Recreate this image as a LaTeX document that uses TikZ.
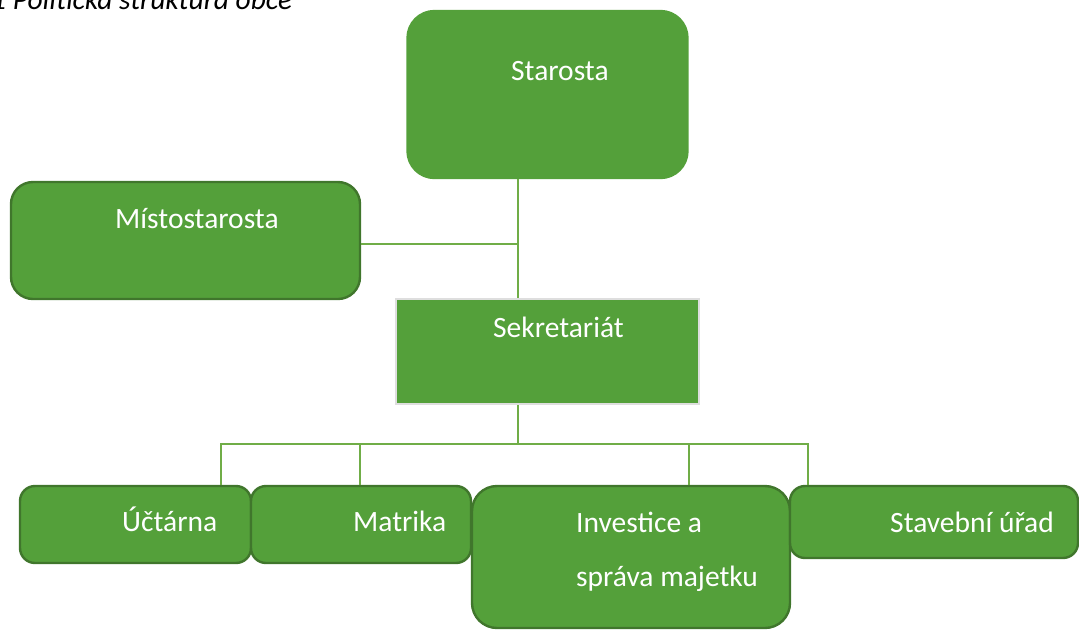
\documentclass[tikz,border=0pt]{standalone}
\usepackage{fontspec}
\setmainfont{Carlito}
\usetikzlibrary{positioning}
\definecolor{mgreen}{RGB}{84,160,58}
\definecolor{mdark}{RGB}{64,118,44}
\definecolor{mline}{RGB}{112,173,71}
\definecolor{mgray}{RGB}{222,222,222}
\tikzset{
  orgbox/.style={draw=mdark, line width=2.4pt, fill=mgreen, rounded corners=#1, inner sep=0pt},
  orgbox/.default=15pt,
  orgtext/.style={text=white, anchor=base west, inner sep=0pt, font=\fontsize{29.5}{35}\selectfont},
  conn/.style={draw=mline, line width=1.6pt}
}

\begin{document}
\begin{tikzpicture}[x=1pt, y=-1pt]
      \useasboundingbox (0,0) rectangle (1079,630);
      \node[anchor=base west, inner sep=0pt, font=\fontsize{29.5}{35}\selectfont\itshape] (caption) at (-9,9) {1 Politická struktura obce};

      \node[orgbox=27pt, draw=mgreen, minimum width=280, minimum height=167] (starosta) at (547.5,94.5) {};
      \node[orgbox=22pt, minimum width=349, minimum height=117] (misto) at (185.5,240.5) {};
      \node[orgbox=0pt, draw=mgray, line width=2pt, minimum width=303, minimum height=105] (sekretariat) at (547.5,351.5) {};
      \node[orgbox, minimum width=231, minimum height=77] (ucetni) at (135.5,524.5) {};
      \node[orgbox, minimum width=220, minimum height=77] (matrika) at (361,524.5) {};
      \node[orgbox=25pt, minimum width=318, minimum height=142] (investice) at (631,557) {};
      \node[orgbox, minimum width=288, minimum height=72] (stavebni) at (934,522) {};

      \node[orgtext] (starosta-t) at (511,80) {Starosta};
      \node[orgtext] (misto-t) at (115,228) {Místostarosta};
      \node[orgtext] (sekretariat-t) at (493,337) {Sekretariát};
      \node[orgtext] (ucetni-t) at (122,531) {Účtárna};
      \node[orgtext] (matrika-t) at (353,531) {Matrika};
      \node[orgtext] (investice-t) at (576,532) {Investice a};
      \node[orgtext] (investice-tt) at (576,586) {správa majetku};
      \node[orgtext] (stavebni-t) at (890,532) {Stavební úřad};

      \coordinate (trunk) at ([xshift=-29.5pt]starosta.south);
      \coordinate (mjoin) at ([yshift=-3.5pt]misto.east);
      \coordinate (busmid) at (518,444);
      \draw[conn] (trunk) -- (trunk |- sekretariat.north);
      \draw[conn] (mjoin) -- (mjoin -| trunk);
      \draw[conn] (sekretariat.south -| trunk) -- (busmid);
      \foreach \b/\dx in {ucetni/85.5, matrika/-1, investice/58, stavebni/-126}
        \draw[conn] (busmid) -| ([xshift=\dx pt]\b.north);
    \end{tikzpicture}
\end{document}
